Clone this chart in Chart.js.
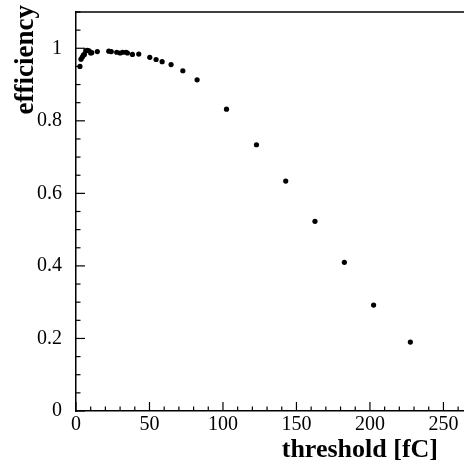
<!DOCTYPE html>
<html>
<head>
<meta charset="utf-8">
<script src="https://cdn.jsdelivr.net/npm/chart.js@4"></script>
<style>
  html, body { margin: 0; padding: 0; background: #fff; }
  #wrap { position: relative; width: 464px; height: 464px; overflow: hidden; }
  .title { position: absolute; font-family: "Liberation Serif", "DejaVu Serif", serif; font-weight: bold; font-size: 26px; line-height: 26px; white-space: nowrap; color: #000; }
  #xtitle { right: 26px; top: 436px; }
  #ytitle { left: 11px; top: 118px; width: 113px; text-align: right; transform-origin: 0 0; transform: rotate(-90deg); font-size: 27px; line-height: 27px; }
</style>
</head>
<body>
<div id="wrap">
  <canvas id="c" width="464" height="464"></canvas>
  <div class="title" id="xtitle">threshold [fC]</div>
  <div class="title" id="ytitle">efficiency</div>
</div>
<script>
const thresholds = [2.7, 3.4, 4.3, 5.0, 5.7, 6.6, 7.7, 8.9, 10.0, 10.7, 14.5, 22.3, 24.0, 27.7, 30.0, 31.8, 34.1, 35.0, 38.4, 42.7, 50.2, 54.5, 58.6, 64.7, 72.7, 82.4, 102.4, 122.8, 142.7, 162.6, 182.6, 202.5, 227.5];
const efficiency = [0.950, 0.970, 0.976, 0.981, 0.983, 0.993, 0.994, 0.993, 0.987, 0.988, 0.991, 0.992, 0.991, 0.989, 0.987, 0.989, 0.989, 0.987, 0.983, 0.984, 0.975, 0.969, 0.963, 0.955, 0.938, 0.913, 0.832, 0.734, 0.634, 0.523, 0.410, 0.292, 0.190];
const xTickLabels = [0, 50, 100, 150, 200, 250];
const yTickLabels = [0, 0.2, 0.4, 0.6, 0.8, 1];
const xMinorStep = 10;
const yMinorStep = 0.05;

const points = thresholds.map((t, i) => ({ x: t, y: efficiency[i] }));

const innerTicks = {
  id: 'innerTicks',
  afterDraw(chart) {
    const ctx = chart.ctx;
    const a = chart.chartArea;
    const xs = chart.scales.x, ys = chart.scales.y;
    ctx.save();
    ctx.strokeStyle = '#000';
    ctx.lineWidth = 1.5;
    ctx.beginPath();
    ctx.moveTo(a.left, a.top);
    ctx.lineTo(a.right, a.top);
    ctx.stroke();
    ctx.lineWidth = 1.2;
    for (let v = xs.min; v <= xs.max + 1e-9; v += xMinorStep) {
      const major = xTickLabels.some(t => Math.abs(t - v) < 1e-6);
      const px = xs.getPixelForValue(v);
      const len = major ? 9 : 4.5;
      ctx.beginPath();
      ctx.moveTo(px, a.bottom);
      ctx.lineTo(px, a.bottom - len);
      ctx.stroke();
    }
    for (let k = 0; ; k++) {
      const v = ys.min + k * yMinorStep;
      if (v > ys.max + 1e-9) break;
      const major = yTickLabels.some(t => Math.abs(t - v) < 1e-6);
      const py = ys.getPixelForValue(v);
      const len = major ? 9 : 4.5;
      ctx.beginPath();
      ctx.moveTo(a.left, py);
      ctx.lineTo(a.left + len, py);
      ctx.stroke();
    }
    ctx.restore();
  }
};

const font = { family: '"Liberation Serif", "DejaVu Serif", serif', size: 20 };

new Chart(document.getElementById('c'), {
  type: 'scatter',
  data: {
    datasets: [{
      data: points,
      backgroundColor: '#000',
      borderColor: '#000',
      pointRadius: 2.6,
      pointBorderWidth: 0,
      pointHoverRadius: 2.6
    }]
  },
  options: {
    responsive: false,
    animation: false,
    events: [],
    layout: { autoPadding: false, padding: { left: 0, top: 12, right: 0, bottom: 0 } },
    plugins: { legend: { display: false }, tooltip: { enabled: false } },
    scales: {
      x: {
        type: 'linear',
        min: 0,
        max: 264,
        afterFit(scale) { scale.height = 53; scale.paddingLeft = 0; scale.paddingRight = 0; },
        grid: { display: false, drawTicks: false },
        border: { display: true, color: '#000', width: 1.5 },
        ticks: {
          stepSize: 50,
          includeBounds: false,
          padding: 2,
          color: '#000',
          font: font,
          maxRotation: 0,
          callback: v => xTickLabels.includes(v) ? String(v) : ''
        }
      },
      y: {
        type: 'linear',
        min: 0,
        max: 1.1,
        afterFit(scale) { scale.width = 76; scale.paddingTop = 0; scale.paddingBottom = 0; },
        grid: { display: false, drawTicks: false },
        border: { display: true, color: '#000', width: 1.5 },
        ticks: {
          stepSize: 0.2,
          includeBounds: false,
          padding: 14,
          color: '#000',
          font: font,
          callback: v => {
            const m = yTickLabels.find(t => Math.abs(t - v) < 1e-6);
            return m === undefined ? '' : String(m);
          }
        }
      }
    }
  },
  plugins: [innerTicks]
});
</script>
</body>
</html>
